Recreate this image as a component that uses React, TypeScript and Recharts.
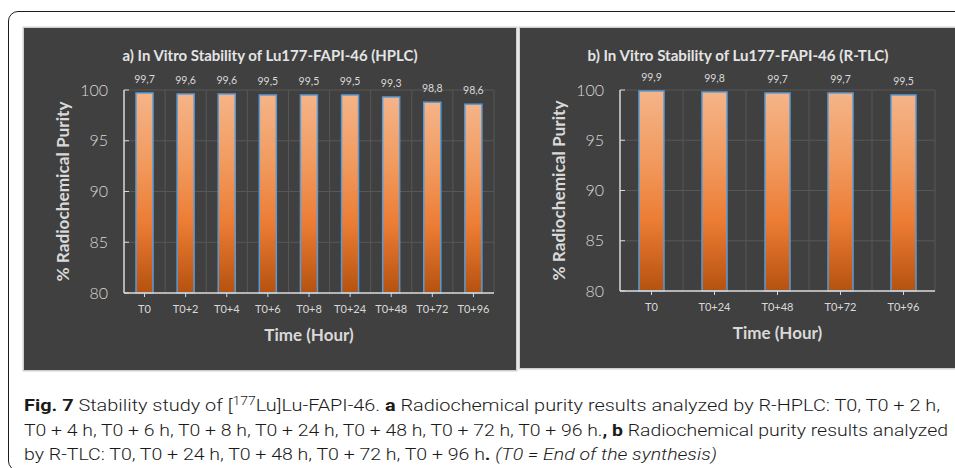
import React from "react";
import { BarChart, Bar, XAxis, YAxis, CartesianGrid, LabelList } from "recharts";

// HPLC time points and purity (%)
const hplcTimes = ["T0", "T0+2", "T0+4", "T0+6", "T0+8", "T0+24", "T0+48", "T0+72", "T0+96"];
const hplcPurity = [99.7, 99.6, 99.6, 99.5, 99.5, 99.5, 99.3, 98.8, 98.6];

// R-TLC time points and purity (%)
const tlcTimes = ["T0", "T0+24", "T0+48", "T0+72", "T0+96"];
const tlcPurity = [99.9, 99.8, 99.7, 99.7, 99.5];

const purityTicks = [80, 85, 90, 95, 100];

const PANEL_BG = "#404040";
const GRID = "#575757";
const INK = "#d9d9d9";
const FONT = "Lato, 'Open Sans', sans-serif";

const YTick = (props: any) => {
  const { x, y, payload } = props;
  return (
    <g>
      <text x={x} y={y} dy="0.35em" textAnchor="end" fill={INK} fontSize={16} fontWeight={300} fontFamily={FONT}>
        {payload.value}
      </text>
      <line x1={x + 16} x2={x + 21} y1={y} y2={y} stroke={INK} strokeWidth={1} />
    </g>
  );
};

interface PanelProps {
  id: string;
  title: string;
  titleWidth: number;
  titleX: number;
  times: string[];
  values: number[];
  left: number;
  width: number;
  height: number;
  rightMargin: number;
  barSize: number;
}

function StabilityPanel({ id, title, titleWidth, titleX, times, values, left, width, height, rightMargin, barSize }: PanelProps) {
  const data = times.map((time, i) => ({ time, purity: values[i] }));
  const n = times.length;

  return (
    <div
      style={{
        position: "absolute",
        left,
        top: 28,
        width,
        height,
        background: PANEL_BG,
        boxShadow: "0 0 0 1.5px #cfcfcf",
      }}
    >
      <BarChart
        width={width}
        height={height}
        data={data}
        margin={{ top: 62, right: rightMargin, left: 0, bottom: 0 }}
      >
        <defs>
          <linearGradient id={`grad-${id}`} x1="0" y1="0" x2="0" y2="1">
            <stop offset="0%" stopColor="#f5b488" />
            <stop offset="35%" stopColor="#f19a5e" />
            <stop offset="65%" stopColor="#ec7c34" />
            <stop offset="100%" stopColor="#b5520f" />
          </linearGradient>
        </defs>
        <CartesianGrid
          stroke={GRID}
          strokeWidth={1}
          vertical={true}
          horizontal={true}
          verticalCoordinatesGenerator={({ offset }: any) =>
            Array.from({ length: n }, (_, i) => offset.left + ((i + 1) * offset.width) / n)
          }
        />
        <XAxis
          dataKey="time"
          type="category"
          height={77}
          tickSize={4}
          tickMargin={8}
          axisLine={{ stroke: INK, strokeWidth: 1.5 }}
          tickLine={{ stroke: INK }}
          tick={{ fill: INK, fontSize: 11, fontFamily: FONT }}
          interval={0}
          label={{
            content: (p: any) => {
              const vb = p.viewBox;
              return (
                <text
                  x={vb.x + vb.width / 2}
                  y={vb.y + 42}
                  dy="0.35em"
                  textAnchor="middle"
                  fill={INK}
                  fontSize={17}
                  fontWeight={700}
                  fontFamily={FONT}
                >
                  Time (Hour)
                </text>
              );
            },
          }}
        />
        <YAxis
          type="number"
          domain={[80, 100]}
          ticks={purityTicks}
          width={100}
          tickSize={0}
          tickMargin={16}
          tickLine={false}
          axisLine={{ stroke: INK, strokeWidth: 1.5 }}
          tick={<YTick />}
          label={{
            content: (p: any) => {
              const vb = p.viewBox;
              const cx = vb.x + 39;
              const cy = vb.y + vb.height / 2;
              return (
                <text
                  x={cx}
                  y={cy}
                  dy="0.35em"
                  transform={`rotate(-90 ${cx} ${cy})`}
                  textAnchor="middle"
                  fill={INK}
                  fontSize={17}
                  fontWeight={700}
                  fontFamily={FONT}
                  textLength={180}
                  lengthAdjust="spacingAndGlyphs"
                >
                  % Radiochemical Purity
                </text>
              );
            },
          }}
        />
        <Bar
          dataKey="purity"
          fill={`url(#grad-${id})`}
          stroke="#5b9bd5"
          strokeWidth={1.5}
          barSize={barSize}
          isAnimationActive={false}
        >
          <LabelList
            dataKey="purity"
            position="top"
            offset={10}
            fill={INK}
            fontSize={10.5}
            fontFamily={FONT}
            formatter={(v: any) => String(v).replace(".", ",")}
          />
        </Bar>
      </BarChart>
      <svg
        width={width}
        height={50}
        style={{ position: "absolute", left: 0, top: 0, pointerEvents: "none" }}
      >
        <text
          x={titleX}
          y={28}
          dy="0.35em"
          textAnchor="middle"
          fill="#e4e4e4"
          fontSize={15}
          fontWeight={700}
          fontFamily={FONT}
          textLength={titleWidth}
          lengthAdjust="spacingAndGlyphs"
        >
          {title}
        </text>
      </svg>
    </div>
  );
}

const CAPTION_FONT = "'Liberation Sans Narrow', 'Roboto', sans-serif";

export default function App() {
  return (
    <div
      style={{
        position: "fixed",
        left: 0,
        top: 0,
        width: 955,
        height: 468,
        background: "#ffffff",
        overflow: "hidden",
      }}
    >
      <div
        style={{
          position: "absolute",
          left: 8,
          top: 11,
          width: 980,
          height: 458,
          border: "1.5px solid #1c1c1c",
          borderRadius: 10,
        }}
      />
      <StabilityPanel
        id="hplc"
        title="a) In Vitro Stability of Lu177-FAPI-46 (HPLC)"
        titleWidth={295}
        titleX={246}
        times={hplcTimes}
        values={hplcPurity}
        left={24}
        width={492}
        height={342}
        rightMargin={22}
        barSize={17}
      />
      <StabilityPanel
        id="tlc"
        title="b) In Vitro Stability of Lu177-FAPI-46 (R-TLC)"
        titleWidth={301}
        titleX={218}
        times={tlcTimes}
        values={tlcPurity}
        left={520}
        width={440}
        height={340}
        rightMargin={25}
        barSize={25}
      />
      <svg width={955} height={90} style={{ position: "absolute", left: 0, top: 385 }}>
        <text x={24} y={26} fill="#1a1a1a" fontSize={17} fontWeight={300} fontFamily={CAPTION_FONT} textLength={916} lengthAdjust="spacingAndGlyphs">
          <tspan fontWeight={700}>Fig. 7</tspan> Stability study of [<tspan dy={-6} fontSize={12}>177</tspan>
          <tspan dy={6}>Lu]Lu-FAPI-46. </tspan>
          <tspan fontWeight={700}>a</tspan> Radiochemical purity results analyzed by R-HPLC: T0, T0 + 2 h,
        </text>
        <text x={24} y={51} fill="#1a1a1a" fontSize={17} fontWeight={300} fontFamily={CAPTION_FONT} textLength={924} lengthAdjust="spacingAndGlyphs">
          T0 + 4 h, T0 + 6 h, T0 + 8 h, T0 + 24 h, T0 + 48 h, T0 + 72 h, T0 + 96 h.
          <tspan fontWeight={700}>, b</tspan> Radiochemical purity results analyzed
        </text>
        <text x={24} y={75} fill="#1a1a1a" fontSize={17} fontWeight={300} fontFamily={CAPTION_FONT} textLength={693} lengthAdjust="spacingAndGlyphs">
          by R-TLC: T0, T0 + 24 h, T0 + 48 h, T0 + 72 h, T0 + 96 h<tspan fontWeight={700}>.</tspan>{" "}
          <tspan fontStyle="italic">(T0 = End of the synthesis)</tspan>
        </text>
      </svg>
    </div>
  );
}
